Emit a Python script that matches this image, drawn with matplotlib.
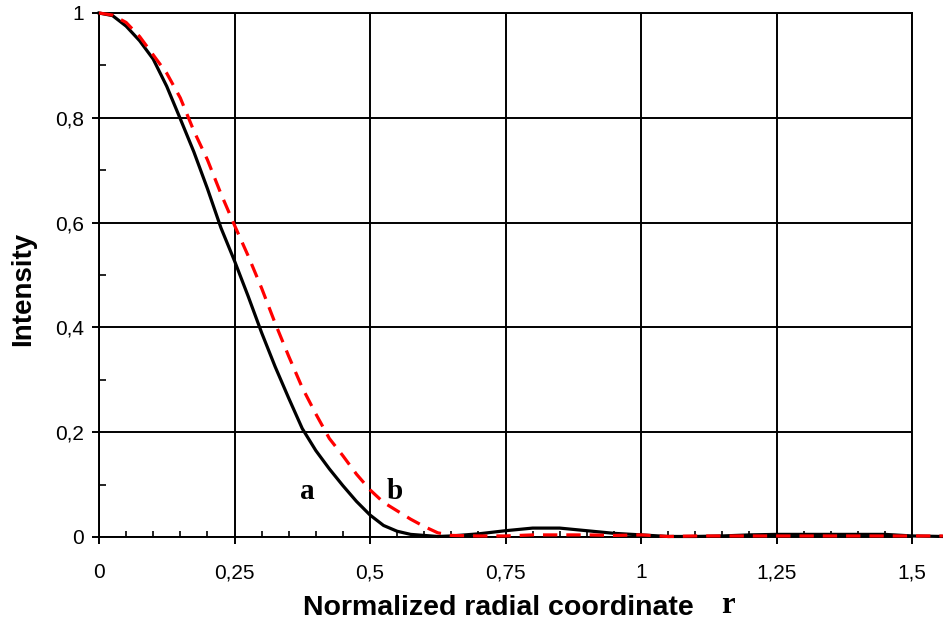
import matplotlib
matplotlib.use("Agg")
import matplotlib.pyplot as plt
from matplotlib.ticker import MultipleLocator

plt.rcParams["font.family"] = ["Liberation Sans", "DejaVu Sans"]
plt.rcParams["font.size"] = 15

r_a = [0, 0.025, 0.05, 0.075, 0.1, 0.125, 0.15, 0.175, 0.2, 0.225, 0.25, 0.275, 0.3,
       0.325, 0.35, 0.375, 0.4, 0.425, 0.45, 0.475, 0.5, 0.525, 0.55, 0.575, 0.6, 0.625,
       0.65, 0.7, 0.75, 0.8, 0.85, 0.9, 0.95, 1.0, 1.05, 1.1, 1.15, 1.2, 1.25, 1.3, 1.35,
       1.4, 1.45, 1.5, 1.557]
i_a = [1.0, 0.995, 0.975, 0.947, 0.912, 0.86, 0.798, 0.735, 0.665, 0.59, 0.527, 0.46, 0.39,
       0.325, 0.265, 0.207, 0.165, 0.13, 0.098, 0.068, 0.042, 0.022, 0.011, 0.005, 0.003, 0.001,
       0.002, 0.006, 0.012, 0.017, 0.017, 0.012, 0.007, 0.004, 0.001, 0.001, 0.002, 0.004, 0.005,
       0.005, 0.005, 0.005, 0.005, 0.002, 0.001]

r_b = [0, 0.025, 0.05, 0.075, 0.1, 0.125, 0.15, 0.175, 0.2, 0.225, 0.25, 0.275, 0.3,
       0.325, 0.35, 0.375, 0.4, 0.425, 0.45, 0.475, 0.5, 0.525, 0.55, 0.575, 0.6, 0.625,
       0.65, 0.7, 0.75, 0.8, 0.85, 0.9, 0.95, 1.0, 1.05, 1.1, 1.2, 1.3, 1.4, 1.5, 1.557]
i_b = [1.0, 0.996, 0.982, 0.955, 0.92, 0.885, 0.838, 0.775, 0.72, 0.655, 0.595, 0.537, 0.475,
       0.408, 0.345, 0.285, 0.235, 0.188, 0.155, 0.12, 0.09, 0.066, 0.05, 0.034, 0.02, 0.008,
       0.003, 0.002, 0.002, 0.004, 0.004, 0.004, 0.003, 0.004, 0.001, 0.002, 0.002, 0.002,
       0.002, 0.002, 0.002]

x_ticks = [0, 0.25, 0.5, 0.75, 1.0, 1.25, 1.5]
x_tick_labels = ["0", "0,25", "0,5", "0,75", "1", "1,25", "1,5"]
y_ticks = [0, 0.2, 0.4, 0.6, 0.8, 1.0]
y_tick_labels = ["0", "0,2", "0,4", "0,6", "0,8", "1"]

W, H = 943, 626
fig = plt.figure(figsize=(W / 100, H / 100), dpi=100)
L, R, B, T = 99, 912, 537, 13
ax = fig.add_axes([L / W, (H - B) / H, (R - L) / W, (B - T) / H])

ax.set_xlim(0, 1.5)
ax.set_ylim(0, 1)

ax.grid(True, which="major", color="black", linewidth=1.4, zorder=1)
ax.set_axisbelow(True)
for s in ax.spines.values():
    s.set_linewidth(1.4)
    s.set_color("black")

ax.set_xticks(x_ticks)
ax.set_xticklabels(x_tick_labels)
ax.set_yticks(y_ticks)
ax.set_yticklabels(y_tick_labels)
ax.xaxis.set_minor_locator(MultipleLocator(0.05))
ax.yaxis.set_minor_locator(MultipleLocator(0.1))
ax.tick_params(axis="x", which="major", direction="out", length=5, width=1.4, pad=14,
               labelsize=15)
ax.tick_params(axis="x", which="minor", direction="in", length=4, width=1.2)
ax.tick_params(axis="y", which="major", direction="out", length=5, width=1.4, pad=6,
               labelsize=15)
ax.tick_params(axis="y", which="minor", direction="in", length=5, width=1.2)

ax.plot(r_a, i_a, color="black", linewidth=2.3, clip_on=False, zorder=3)
ax.plot(r_b, i_b, color="#ff0000", linewidth=2.3, dashes=(4.5, 2.8), clip_on=False, zorder=4)

ax.text(0.384, 0.086, "a", fontfamily="Liberation Serif", fontweight="bold", fontsize=21,
        ha="center", va="center", zorder=5)
ax.text(0.546, 0.086, "b", fontfamily="Liberation Serif", fontweight="bold", fontsize=21,
        ha="center", va="center", zorder=5)

fig.text(303 / W, 1 - 615 / H, "Normalized radial coordinate", fontfamily="Liberation Sans",
         fontweight="bold", fontsize=20.5, ha="left", va="baseline")
fig.text(728 / W, 1 - 613 / H, "r", fontfamily="Liberation Serif",
         fontweight="bold", fontsize=22, ha="center", va="baseline")
fig.text(23 / W, 1 - 289 / H, "Intensity", fontfamily="Liberation Sans",
         fontweight="bold", fontsize=20, ha="center", va="center", rotation=90)

fig.savefig("out.png", dpi=100)
